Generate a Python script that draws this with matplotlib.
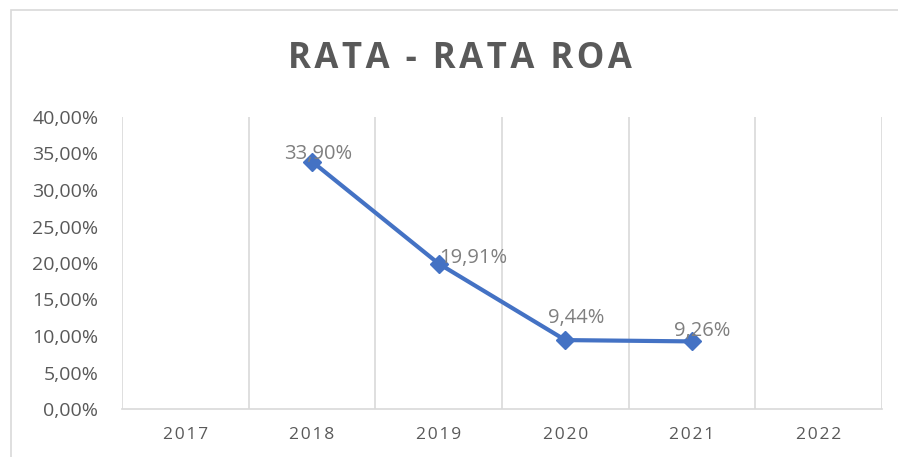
import matplotlib

matplotlib.use("Agg")
import matplotlib.pyplot as plt
from matplotlib.patches import Rectangle

# data
years = ["2017", "2018", "2019", "2020", "2021", "2022"]
roa_years = ["2018", "2019", "2020", "2021"]
roa = [0.3390, 0.1991, 0.0944, 0.0926]
labels = ["33,90%", "19,91%", "9,44%", "9,26%"]
label_offsets = [(6, 8), (35, 6), (11, 22), (10, 10)]  # pixels, label centre vs point
yticks = [0.0, 0.05, 0.10, 0.15, 0.20, 0.25, 0.30, 0.35, 0.40]

BLUE = "#4472C4"
GRID = "#D9D9D9"
TXT = "#595959"
FONT = ["Open Sans", "DejaVu Sans"]
HAIR = "\u200a"

plt.rcParams["font.family"] = FONT


def spaced(s):
    return HAIR.join(s)


fig = plt.figure(figsize=(8.98, 4.57), dpi=100)
ax = fig.add_axes([122 / 898, 48 / 457, 760 / 898, 292 / 457])

xpos = {y: i for i, y in enumerate(years)}
xs = [xpos[y] for y in roa_years]
ax.plot(xs, roa, color=BLUE, lw=3, marker="D", ms=9, mec=BLUE, mfc=BLUE, solid_capstyle="round", zorder=3)

for x, v, lab, (dx, dy) in zip(xs, roa, labels, label_offsets):
    ax.annotate(lab, (x, v), xytext=(dx, dy), textcoords="offset pixels",
                ha="center", va="center", fontsize=14.5, color="#7F7F7F", zorder=4)

ax.set_xlim(-0.5, len(years) - 0.5)
ax.set_ylim(0, 0.40)
ax.set_yticks(yticks)
ax.set_yticklabels([f"{t * 100:.2f}%".replace(".", ",") for t in yticks], fontsize=14, color=TXT)
ax.set_xticks(range(len(years)))
ax.set_xticklabels([spaced(y) for y in years], fontsize=12.5, color=TXT)
ax.tick_params(axis="y", length=0, pad=17)
ax.tick_params(axis="x", length=0, pad=13)

# category boundaries as vertical gridlines
for b in [i + 0.5 for i in range(-1, len(years))]:
    ax.axvline(b, color=GRID, lw=1.2, zorder=1)

for s in ["top", "right", "left"]:
    ax.spines[s].set_visible(False)
ax.spines["bottom"].set_color(GRID)
ax.spines["bottom"].set_linewidth(1.2)

fig.text(460 / 898, 1 - 59 / 457, spaced("RATA - RATA ROA"),
         ha="center", va="center", fontsize=25, fontweight="bold", color=TXT)

# outer chart frame (only top/left edges fall inside the picture)
fig.patches.append(Rectangle((11 / 898, -0.1), 1.2, 1 - 10 / 457 + 0.1, transform=fig.transFigure,
                             fill=False, ec=GRID, lw=1.2))

fig.savefig("out.png", dpi=100)
